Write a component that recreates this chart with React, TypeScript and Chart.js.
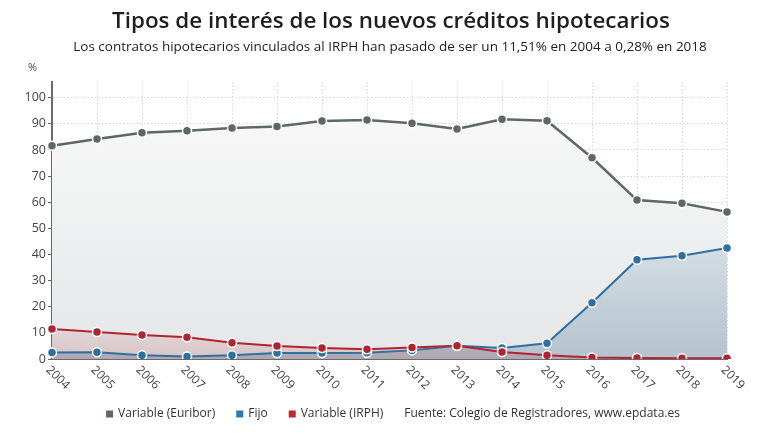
import React, { useEffect, useRef } from "react";
import { Chart, registerables } from "chart.js";

Chart.register(...registerables);

const years = ["2004", "2005", "2006", "2007", "2008", "2009", "2010", "2011", "2012", "2013", "2014", "2015", "2016", "2017", "2018", "2019"];
const euribor = [81.6, 84.2, 86.6, 87.3, 88.4, 89.0, 91.1, 91.5, 90.2, 88.0, 91.7, 91.2, 77.0, 60.8, 59.6, 56.3];
const fijo = [2.5, 2.6, 1.4, 1.0, 1.4, 2.3, 2.3, 2.4, 3.3, 5.1, 4.2, 6.0, 21.5, 38.0, 39.5, 42.5];
const irph = [11.51, 10.3, 9.2, 8.3, 6.2, 5.0, 4.2, 3.7, 4.4, 5.1, 2.7, 1.4, 0.6, 0.4, 0.28, 0.3];

const title = "Tipos de interés de los nuevos créditos hipotecarios";
const subtitle = "Los contratos hipotecarios vinculados al IRPH han pasado de ser un 11,51% en 2004 a 0,28% en 2018";
const unitLabel = "%";
const seriesNames = ["Variable (Euribor)", "Fijo", "Variable (IRPH)"];
const sourceText = "Fuente: Colegio de Registradores, www.epdata.es";

const FONT = '"Open Sans", "DejaVu Sans", sans-serif';
const colors = {
  euribor: "#5d6863",
  fijo: "#2d6fa1",
  irph: "#b1232f",
};
const legendColors = ["#5d6863", "#2e78b5", "#c0272d"];

function gradient(ctx: any, topVal: number, stops: [string, string]) {
  const chart = ctx.chart;
  const area = chart.chartArea;
  if (!area) return stops[1];
  const y = chart.scales.y;
  const g = chart.ctx.createLinearGradient(0, y.getPixelForValue(topVal), 0, area.bottom);
  g.addColorStop(0, stops[0]);
  g.addColorStop(1, stops[1]);
  return g;
}

const decorPlugin = {
  id: "decor",
  afterDraw(chart: any) {
    const ctx = chart.ctx;
    const area = chart.chartArea;
    const xs = chart.scales.x;
    ctx.save();
    // title
    ctx.fillStyle = "#1e1e1e";
    ctx.textAlign = "center";
    ctx.textBaseline = "middle";
    ctx.font = `600 22.4px ${FONT}`;
    ctx.fillText(title, 391, 22);
    ctx.font = `13.5px ${FONT}`;
    ctx.fillText(subtitle, 390, 47);
    // unit
    ctx.fillStyle = "#444";
    ctx.font = `11px ${FONT}`;
    ctx.textAlign = "left";
    ctx.fillText(unitLabel, 28, 68);
    // rotated x labels
    ctx.font = `12px ${FONT}`;
    ctx.fillStyle = "#444";
    years.forEach((lab, i) => {
      const x = xs.getPixelForTick(i);
      ctx.save();
      ctx.translate(x - 4, area.bottom + 9);
      ctx.rotate(Math.PI / 4);
      ctx.textAlign = "left";
      ctx.textBaseline = "middle";
      ctx.fillText(lab, 0, 0);
      ctx.restore();
    });
    // legend
    ctx.font = `12px ${FONT}`;
    ctx.textBaseline = "middle";
    const box = 7, gapBox = 5, gapItem = 21;
    const items = [...seriesNames.map((n, i) => ({ t: n, c: legendColors[i] })), { t: sourceText, c: null as any }];
    let total = 0;
    items.forEach((it, i) => {
      total += (it.c ? box + gapBox : 0) + ctx.measureText(it.t).width + (i < items.length - 1 ? gapItem : 0);
    });
    let x = 393 - total / 2;
    const ly = 414;
    items.forEach((it) => {
      if (it.c) {
        ctx.fillStyle = it.c;
        ctx.fillRect(x, ly - box / 2, box, box);
        x += box + gapBox;
      }
      ctx.fillStyle = "#333";
      ctx.textAlign = "left";
      ctx.fillText(it.t, x, ly);
      x += ctx.measureText(it.t).width + gapItem;
    });
    ctx.restore();
  },
};

export default function App() {
  const ref = useRef<HTMLCanvasElement>(null);
  useEffect(() => {
    if (!ref.current) return;
    const pointStyle = (c: string) => ({
      borderColor: c,
      pointBackgroundColor: c,
      pointBorderColor: "#ffffff",
      pointBorderWidth: 1.5,
      pointRadius: 4.5,
      borderWidth: 2,
      tension: 0,
    });
    const chart = new Chart(ref.current, {
      type: "line",
      data: {
        labels: years,
        datasets: [
          {
            label: seriesNames[0],
            data: euribor,
            ...pointStyle(colors.euribor),
            borderWidth: 2.5,
            fill: "origin",
            backgroundColor: (c: any) => gradient(c, 95, ["#f8f8f8", "#e4e6e7"]),
            order: 3,
          },
          {
            label: seriesNames[1],
            data: fijo,
            ...pointStyle(colors.fijo),
            fill: "origin",
            backgroundColor: (c: any) => gradient(c, 45, ["#d5dee4", "#b4c3ce"]),
            order: 2,
          },
          {
            label: seriesNames[2],
            data: irph,
            ...pointStyle(colors.irph),
            fill: "origin",
            backgroundColor: (c: any) => gradient(c, 12, ["rgba(176,40,50,0.09)", "rgba(150,40,50,0.18)"]),
            order: 1,
          },
        ],
      },
      options: {
        responsive: false,
        animation: false,
        layout: { padding: { top: 82, left: 0, right: 53, bottom: 81 } },
        plugins: {
          legend: { display: false },
          title: { display: false },
          tooltip: { enabled: false },
          filler: { drawTime: "beforeDatasetsDraw" },
        },
        scales: {
          x: {
            offset: false,
            ticks: { display: false },
            grid: { color: "#d8d8d8", drawTicks: false },
            border: { display: true, color: "#6a6a6a", width: 2, dash: [1.5, 2] },
            afterFit: (s: any) => { s.height = 0; },
          },
          y: {
            min: 0,
            max: 106,
            ticks: { stepSize: 10, color: "#444", font: { family: FONT, size: 12.5 }, padding: 2 },
            afterBuildTicks: (s: any) => { s.ticks = s.ticks.filter((t: any) => t.value % 10 === 0); },
            grid: { color: "#d8d8d8", tickLength: 4, tickColor: "#666" },
            border: { display: true, color: "#6a6a6a", width: 2, dash: [1.5, 2] },
            afterFit: (s: any) => { s.width = 52; },
          },
        },
      },
      plugins: [decorPlugin],
    } as any);
    return () => chart.destroy();
  }, []);
  return (
    <div style={{ position: "absolute", left: 0, top: 0, width: 780, height: 440, background: "#fff" }}>
      <canvas ref={ref} width={780} height={440} />
    </div>
  );
}
